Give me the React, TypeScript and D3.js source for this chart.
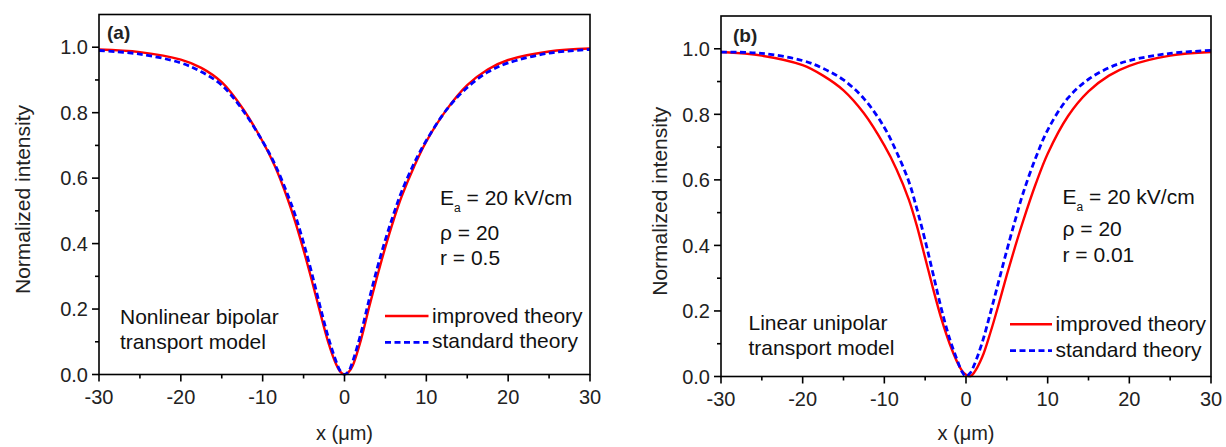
import React from "react";
import * as d3 from "d3";

// ---- data ----
const xGrid = [-30, -25, -20, -17.5, -15, -12.5, -10, -8.5, -7, -6, -5, -4, -3, -2, -1, -0.5, 0, 0.5, 1, 2, 3, 4, 5, 6, 7, 8.5, 10, 12.5, 15, 17.5, 20, 25, 30];

const aImproved = [0.993, 0.985, 0.962, 0.937, 0.893, 0.815, 0.712, 0.636, 0.54, 0.465, 0.38, 0.288, 0.192, 0.10, 0.03, 0.008, 0.0, 0.007, 0.027, 0.105, 0.205, 0.30, 0.39, 0.472, 0.545, 0.635, 0.712, 0.81, 0.884, 0.932, 0.961, 0.987, 0.996];
const aStandard = [0.990, 0.979, 0.952, 0.925, 0.884, 0.81, 0.712, 0.642, 0.553, 0.485, 0.402, 0.31, 0.21, 0.115, 0.038, 0.01, 0.0, 0.01, 0.04, 0.125, 0.228, 0.325, 0.412, 0.49, 0.56, 0.645, 0.715, 0.81, 0.877, 0.924, 0.952, 0.982, 0.993];
const bImproved = [0.99, 0.979, 0.95, 0.918, 0.873, 0.803, 0.705, 0.632, 0.54, 0.458, 0.362, 0.265, 0.175, 0.10, 0.04, 0.018, 0.005, 0.0, 0.012, 0.06, 0.135, 0.22, 0.31, 0.395, 0.475, 0.585, 0.68, 0.795, 0.87, 0.918, 0.948, 0.979, 0.99];
const bStandard = [0.99, 0.986, 0.964, 0.94, 0.905, 0.848, 0.76, 0.685, 0.595, 0.51, 0.415, 0.31, 0.205, 0.115, 0.045, 0.015, 0.0, 0.01, 0.035, 0.105, 0.195, 0.29, 0.385, 0.475, 0.56, 0.665, 0.752, 0.85, 0.907, 0.942, 0.964, 0.986, 0.995];

const xMajorTicks = [-30, -20, -10, 0, 10, 20, 30];
const xMinorTicks = [-25, -15, -5, 5, 15, 25];
const yMajorTicks = [0, 0.2, 0.4, 0.6, 0.8, 1.0];
const yMinorTicks = [0.1, 0.3, 0.5, 0.7, 0.9];

const seriesNames = ["improved theory", "standard theory"];
const xLabel = "x (\u03bcm)";
const yLabel = "Normalized intensity";

const FONT = "'Liberation Sans', Arial, sans-serif";

type PanelProps = {
  left: number; right: number; top: number; bottom: number;
  improved: number[]; standard: number[];
  tag: string; tagPos: [number, number];
  model: [string, string]; modelPos: [number, number];
  params: string[]; paramPos: [number, number, number, number];
  legendPos: [number, number, number, number];
  yLabelX: number;
};

function Panel(p: PanelProps) {
  const x = d3.scaleLinear().domain([-30, 30]).range([p.left, p.right]);
  const y = d3.scaleLinear().domain([0, 1.1]).range([p.bottom, p.top]);
  const line = d3.line<[number, number]>()
    .x((d) => x(d[0]))
    .y((d) => y(d[1]))
    .curve(d3.curveCatmullRom.alpha(0.5));
  const imp = line(xGrid.map((v, i) => [v, p.improved[i]]) as [number, number][]) || "";
  const std = line(xGrid.map((v, i) => [v, p.standard[i]]) as [number, number][]) || "";
  const [lx1, lx2, ly1, ly2] = p.legendPos;
  const clipId = "clip" + p.tag.replace(/[()]/g, "");
  return (
    <g fontFamily={FONT}>
      <defs>
        <clipPath id={clipId}>
          <rect x={p.left} y={p.top} width={p.right - p.left} height={p.bottom - p.top + 1} />
        </clipPath>
      </defs>
      <g clipPath={`url(#${clipId})`}>
        <path d={imp} fill="none" stroke="#ff0000" strokeWidth={2.4} />
        <path d={std} fill="none" stroke="#0000ff" strokeWidth={2.8} strokeDasharray="6,3.5" />
      </g>
      {/* frame */}
      <rect x={p.left} y={p.top} width={p.right - p.left} height={p.bottom - p.top} fill="none" stroke="#000" strokeWidth={1.6} />
      {/* x ticks */}
      {xMajorTicks.map((t) => (
        <g key={"xm" + t}>
          <line x1={x(t)} x2={x(t)} y1={p.bottom} y2={p.bottom + 7} stroke="#000" strokeWidth={1.6} />
          <text x={x(t)} y={p.bottom + 29} fontSize={20} textAnchor="middle" fill="#222">{t}</text>
        </g>
      ))}
      {xMinorTicks.map((t) => (
        <line key={"xn" + t} x1={x(t)} x2={x(t)} y1={p.bottom} y2={p.bottom + 4} stroke="#000" strokeWidth={1.6} />
      ))}
      {/* y ticks */}
      {yMajorTicks.map((t) => (
        <g key={"ym" + t}>
          <line x1={p.left - 7} x2={p.left} y1={y(t)} y2={y(t)} stroke="#000" strokeWidth={1.6} />
          <text x={p.left - 11} y={y(t)} dy="0.36em" fontSize={20} textAnchor="end" fill="#222">{t.toFixed(1)}</text>
        </g>
      ))}
      {yMinorTicks.map((t) => (
        <line key={"yn" + t} x1={p.left - 4} x2={p.left} y1={y(t)} y2={y(t)} stroke="#000" strokeWidth={1.6} />
      ))}
      {/* axis labels */}
      <text x={(p.left + p.right) / 2} y={440} fontSize={20} textAnchor="middle" fill="#222">{xLabel}</text>
      <text transform={`translate(${p.yLabelX},${(p.top + p.bottom) / 2 + 5}) rotate(-90)`} dy="0.35em" fontSize={21} textAnchor="middle" fill="#222">{yLabel}</text>
      {/* tag */}
      <text x={p.tagPos[0]} y={p.tagPos[1]} fontSize={19} fontWeight="bold" fill="#222">{p.tag}</text>
      {/* model */}
      <text x={p.modelPos[0]} y={p.modelPos[1]} fontSize={21} fill="#111">{p.model[0]}</text>
      <text x={p.modelPos[0]} y={p.modelPos[1] + 25} fontSize={21} fill="#111">{p.model[1]}</text>
      {/* params */}
      <text x={p.paramPos[0]} y={p.paramPos[1]} fontSize={21} fill="#111">
        E<tspan fontSize={12} dy={7}>a</tspan><tspan dy={-7}>{" " + p.params[0]}</tspan>
      </text>
      <text x={p.paramPos[0]} y={p.paramPos[2]} fontSize={21} fill="#111">{p.params[1]}</text>
      <text x={p.paramPos[0]} y={p.paramPos[3]} fontSize={21} fill="#111">{p.params[2]}</text>
      {/* legend */}
      <line x1={lx1} x2={lx2} y1={ly1} y2={ly1} stroke="#ff0000" strokeWidth={2.4} />
      <text x={lx2 + 3.5} y={ly1 + 6.5} fontSize={21} fill="#111">{seriesNames[0]}</text>
      <line x1={lx1} x2={lx2} y1={ly2} y2={ly2} stroke="#0000ff" strokeWidth={2.8} strokeDasharray="6,3.5" />
      <text x={lx2 + 3.5} y={ly2 + 6} fontSize={21} fill="#111">{seriesNames[1]}</text>
    </g>
  );
}

export default function App() {
  return (
    <svg width={1226} height={447} style={{ position: "absolute", left: 0, top: 0, background: "#fff" }}>
      <rect x={0} y={0} width={1226} height={447} fill="#fff" />
      <Panel
        left={99} right={590} top={14.5} bottom={374.5}
        improved={aImproved} standard={aStandard}
        tag="(a)" tagPos={[107, 38.5]}
        model={["Nonlinear bipolar", "transport model"]} modelPos={[120, 324]}
        params={["= 20 kV/cm", "\u03c1 = 20", "r = 0.5"]} paramPos={[440, 205, 239.5, 265]}
        legendPos={[385, 428.5, 316, 342.3]}
        yLabelX={23}
      />
      <Panel
        left={721} right={1211} top={16} bottom={376.5}
        improved={bImproved} standard={bStandard}
        tag="(b)" tagPos={[733, 41.5]}
        model={["Linear unipolar", "transport model"]} modelPos={[748.5, 330]}
        params={["= 20 kV/cm", "\u03c1 = 20", "r = 0.01"]} paramPos={[1062.5, 203.5, 236, 261.7]}
        legendPos={[1010, 1052, 324.3, 350.7]}
        yLabelX={660}
      />
    </svg>
  );
}
